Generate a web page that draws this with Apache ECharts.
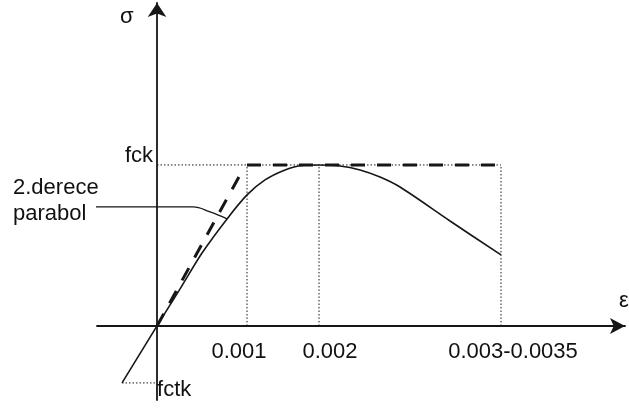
<!DOCTYPE html>
<html>
<head>
<meta charset="utf-8">
<script src="https://cdn.jsdelivr.net/npm/echarts@6/dist/echarts.min.js"></script>
<style>
  html, body { margin: 0; padding: 0; background: #fff; }
  #main { width: 629px; height: 408px; }
</style>
</head>
<body>
<div id="main"></div>
<script>
// schematic units: x = 1 at strain 0.001, y = 1 at fck
var curveX = [-0.389, 0, 0.256, 0.5, 0.778, 1.0, 1.2, 1.422, 1.611, 1.8, 2.033, 2.256, 2.478, 2.7, 3.256, 3.822];
var curveY = [-0.354, 0, 0.23, 0.453, 0.665, 0.814, 0.907, 0.969, 0.997, 1.0, 0.994, 0.969, 0.925, 0.863, 0.652, 0.441];
var tangentX = [0, 0.922];
var tangentY = [0, 0.938];
var plateauX = [1.0, 3.822];
var plateauY = [1, 1];
var leaderX = [-0.722, 0.4, 0.589, 0.778];
var leaderY = [0.739, 0.739, 0.708, 0.665];
var strainTicks = [1, 1.8, 3.822];
var strainLabels = ["0.001", "0.002", "0.003-0.0035"];
var fck = 1;
var fctk = -0.354;

var ink = "#161616";
var textColor = "#111";
var font = "Liberation Sans, Arial, sans-serif";
// the scanned labels sit a little off their guide lines
var labelShift = [-8, 11, 12];

function pairs(xs, ys) {
  return xs.map(function (x, i) { return [x, ys[i]]; });
}

function dotted(data) {
  return {
    type: "line", data: data, symbol: "none", silent: true,
    lineStyle: { color: ink, width: 1, type: [1.5, 2] }
  };
}

function textPoints(data, texts, label) {
  return {
    type: "scatter", data: data, symbolSize: 0, silent: true,
    itemStyle: { opacity: 1 },
    label: Object.assign({
      show: true, color: textColor, opacity: 1, fontSize: 22, fontFamily: font,
      formatter: function (p) { return texts[p.dataIndex]; }
    }, label)
  };
}

var series = [];
// dotted guides
series.push(dotted([[0, fck], [strainTicks[2], fck]]));
strainTicks.forEach(function (t) {
  series.push(dotted([[t, 0], [t, fck]]));
});
series.push(dotted([[curveX[0], fctk], [0, fctk]]));
// parabola curve
series.push({
  type: "line", data: pairs(curveX, curveY), symbol: "none", smooth: 0.3,
  lineStyle: { color: ink, width: 1.6 }
});
// dashed idealised line
series.push({
  type: "line", data: pairs(tangentX, tangentY), symbol: "none",
  lineStyle: { color: ink, width: 3, type: [14, 12] }
});
series.push({
  type: "line", data: pairs(plateauX, plateauY), symbol: "none",
  lineStyle: { color: ink, width: 3, type: [14, 12] }
});
// leader for the label
series.push({
  type: "line", data: pairs(leaderX, leaderY), symbol: "none", smooth: 0.4, clip: false,
  lineStyle: { color: ink, width: 1.3 }
});
// tick labels sitting on the axes
series.push(textPoints(strainTicks.map(function (t, i) {
  return { value: [t, 0], label: { offset: [labelShift[i], 0] } };
}), strainLabels, { position: "bottom", distance: 15 }));
series.push(textPoints([[0, fck]], ["fck"], { position: "left", distance: 4, offset: [0, -9] }));
series.push(textPoints([[0, fctk]], ["fctk"], { position: "right", distance: 0, offset: [0, 7] }));

var chart = echarts.init(document.getElementById("main"));
chart.setOption({
  animation: false,
  backgroundColor: "#fff",
  grid: { left: 97, right: 4, top: 3, bottom: 8, containLabel: false, outerBoundsMode: "none" },
  xAxis: {
    type: "value", min: -0.667, max: 5.2,
    splitLine: { show: false },
    axisTick: { show: false },
    axisLabel: { show: false },
    axisLine: {
      onZero: true, symbol: ["none", "arrow"], symbolSize: [12, 15],
      lineStyle: { color: ink, width: 1.8 }
    }
  },
  yAxis: {
    type: "value", min: -0.46, max: 2.006,
    splitLine: { show: false },
    axisTick: { show: false },
    axisLabel: { show: false },
    axisLine: {
      onZero: true, symbol: ["none", "arrow"], symbolSize: [14, 14],
      lineStyle: { color: ink, width: 1.8 }
    }
  },
  graphic: [
    { type: "text", left: 120, top: 6, style: { text: "σ", fill: textColor, font: "22px " + font } },
    { type: "text", left: 619, top: 290, style: { text: "ε", fill: textColor, font: "22px " + font } },
    { type: "text", left: 13, top: 175, style: { text: "2.derece\nparabol", fill: textColor, font: "22px " + font, lineHeight: 26 } }
  ],
  series: series
});
</script>
</body>
</html>
